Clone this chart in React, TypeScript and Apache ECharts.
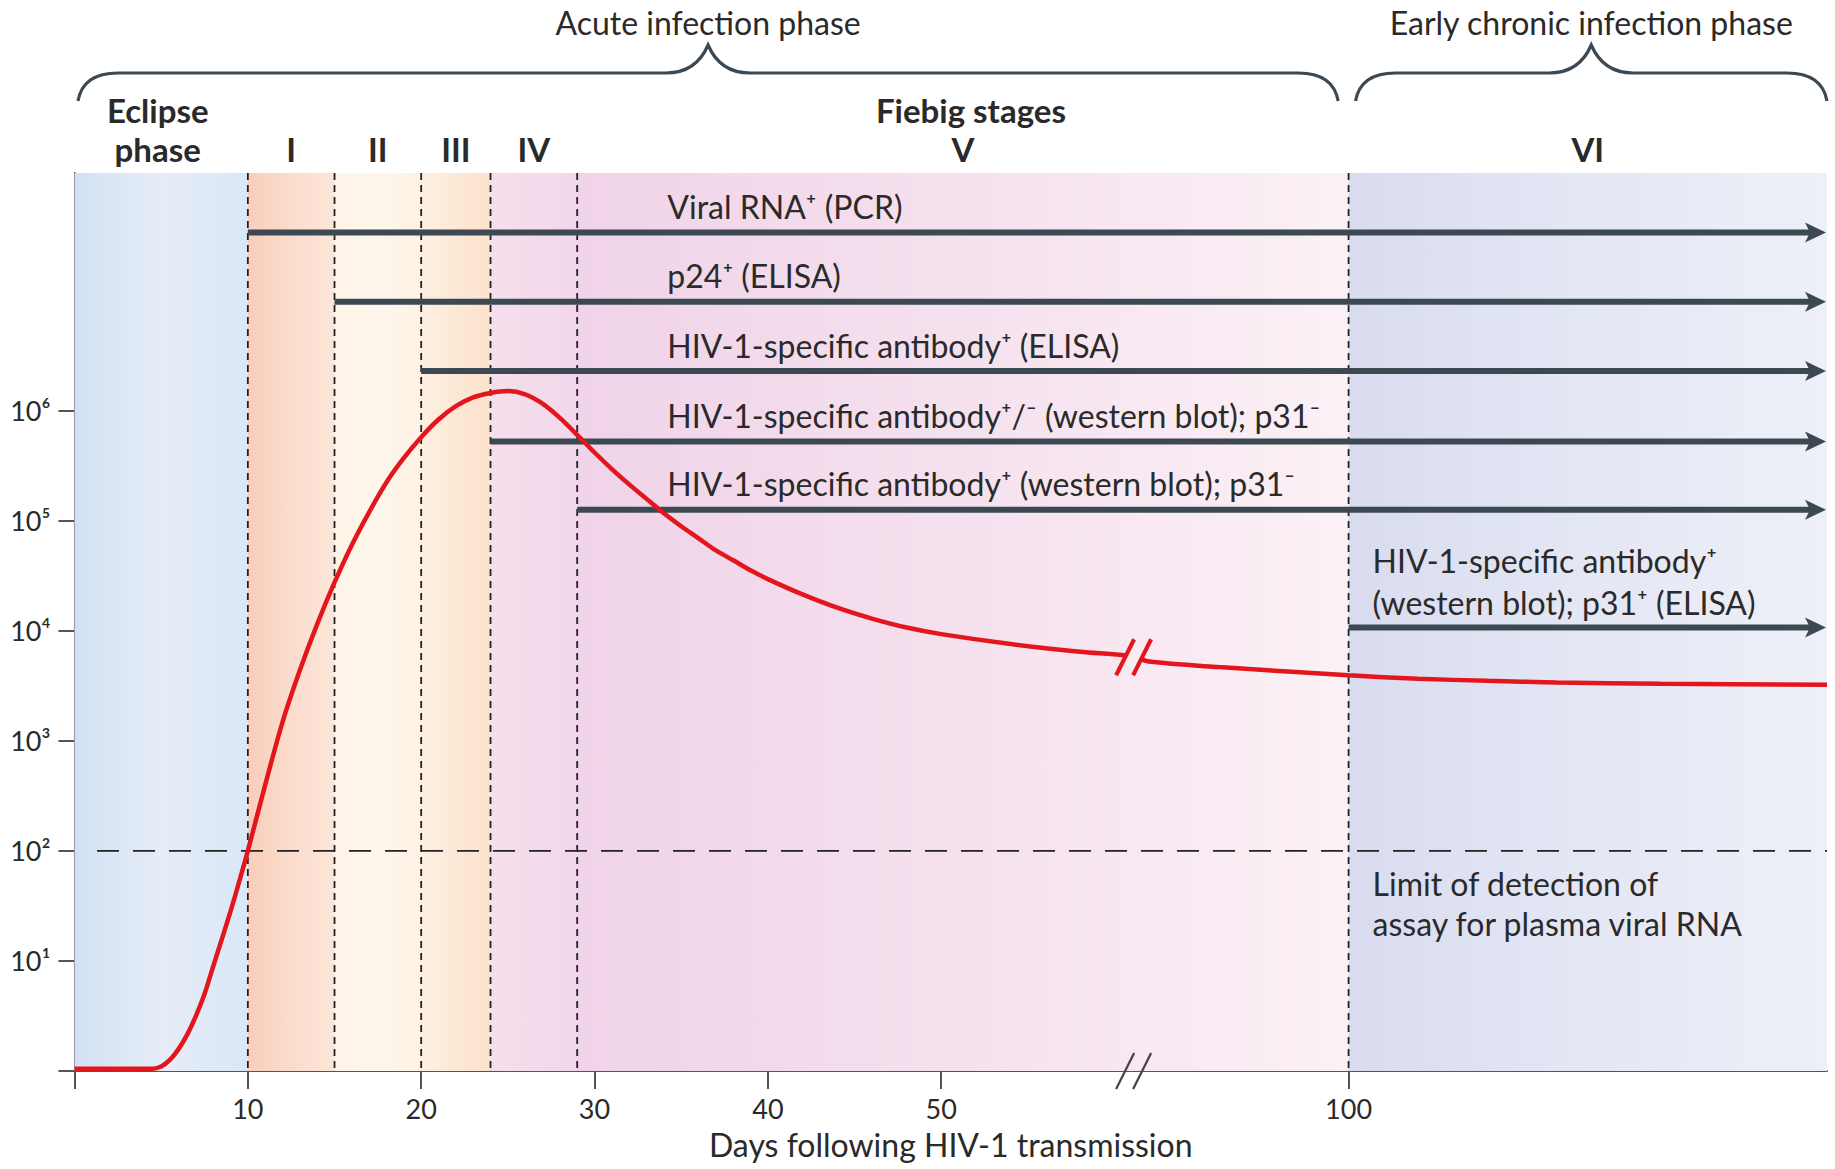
import React, { useEffect, useRef } from 'react';
import * as echarts from 'echarts';

// ---- axis break: days beyond the break are shifted left by BREAK_GAP days ----
const BREAK_POS = 61;
const BREAK_GAP = 26.5;
const toAxis = (day: number): number => (day <= BREAK_POS ? day : day - BREAK_GAP);
const fromAxis = (pos: number): number => (pos <= BREAK_POS ? pos : pos + BREAK_GAP);

const X_END_DAY = 127.6;
const Y_MIN = 1;
const Y_MAX = Math.pow(10, 8.16);

// ---- tick labels ----
const xTickDays = [10, 20, 30, 40, 50, 100];
const yTickValues = [10, 100, 1000, 10000, 100000, 1000000];
const yTickLabels = ['10¹', '10²', '10³', '10⁴', '10⁵', '10⁶'];

// ---- viral load curve (days, copies per ml) ----
const viralDays = [
  0, 4.5, 5, 5.5, 6, 6.5, 7, 7.5, 8, 8.5, 9, 9.5, 10, 11, 12, 13, 14, 15, 16, 17, 18, 19, 20, 21, 22, 23, 24, 25,
  26, 27, 28, 29, 30, 31, 32, 33, 34, 35, 36, 37, 38, 39, 40, 42, 44, 46, 48, 50, 54, 58, 61,
  88.5, 92.5, 100, 104, 108, 112, 118, 127.6,
];
const viralLoad = [
  1.05, 1.05, 1.1, 1.26, 1.58, 2.14, 3.16, 5.01, 8.91, 15.8, 28.2, 52.5, 100, 398, 1480, 4370, 11500, 27500, 60300,
  120000, 224000, 372000, 575000, 832000, 1100000, 1320000, 1450000, 1510000,
  1410000, 1160000, 861000, 603000, 417000, 295000, 214000, 158000, 117000, 89100, 69200, 53700, 43700, 35500, 29500,
  21400, 16200, 12900, 10700, 9330, 7590, 6460, 5890,
  5250, 4680, 3940, 3670, 3510, 3390, 3310, 3240,
];

// ---- background phases / Fiebig stages ----
const bandStartDays = [0, 10, 15, 20, 24, 29, 100];
const bandEndDays = [10, 15, 20, 24, 29, 100, X_END_DAY];
const bandColors = [
  ['#d2e1f3', '#e6edf8', '#d9e7f6'],
  ['#f9cfbb', '#fbdccc', '#fde6d9'],
  ['#fef4e7', '#fef6ed', '#fdf2e4'],
  ['#fef0e2', '#fde8d6', '#fce2cd'],
  ['#f6dfec', '#f4dbeb', '#f2d7ea'],
  ['#f0d3e8', '#f5e1ee', '#fbf1f6'],
  ['#d9dcef', '#e4e7f4', '#eef0f8'],
];
const stageBoundaryDays = [10, 15, 20, 24, 29, 100];
const stageNames = ['I', 'II', 'III', 'IV', 'V', 'VI'];
const stageStartDays = [10, 15, 20, 24, 29, 100];
const stageEndDays = [15, 20, 24, 29, 100, X_END_DAY];

// ---- assay detection arrows ----
const assayLabels = [
  'Viral RNA⁺ (PCR)',
  'p24⁺ (ELISA)',
  'HIV-1-specific antibody⁺ (ELISA)',
  'HIV-1-specific antibody⁺/⁻ (western blot); p31⁻',
  'HIV-1-specific antibody⁺ (western blot); p31⁻',
  'HIV-1-specific antibody⁺\n(western blot); p31⁺ (ELISA)',
];
const assayStartDays = [10, 15, 20, 24, 29, 100];
const assayLevels = [41700000, 9770000, 2290000, 525000, 126000, 10700];

// ---- phases (braces) ----
const phaseNames = ['Acute infection phase', 'Early chronic infection phase'];
const phaseStartDays = [0.2, 100.4];
const phaseEndDays = [99.4, X_END_DAY];

const DETECTION_LIMIT = 100;
const CURVE_BREAK_LEVEL = 5750;

const FONT = 'Lato, "Open Sans", "DejaVu Sans", sans-serif';
const TEXT = '#2a2a2a';
const SLATE = '#3c4852';
const RED = '#e3161d';
const ANNOT_SIZE = 32;
const BOLD_SIZE = 33;

export default function App() {
  const ref = useRef<HTMLDivElement>(null);

  useEffect(() => {
    if (!ref.current) return;
    const chart = echarts.init(ref.current, undefined, { renderer: 'svg' });

    const txt = (text: string, x: number, y: number, o: any = {}) => ({
      type: 'text',
      x,
      y,
      style: {
        text,
        fill: o.fill || TEXT,
        fontFamily: FONT,
        fontSize: o.fontSize || ANNOT_SIZE,
        fontWeight: o.fontWeight || 'normal',
        align: o.align || 'left',
        verticalAlign: o.verticalAlign || 'middle',
        lineHeight: o.lineHeight || 40,
      },
    });

    const option: any = {
      animation: false,
      backgroundColor: '#ffffff',
      grid: { left: 74.5, right: 8, top: 173, bottom: 98 },
      xAxis: {
        type: 'value',
        min: 0,
        max: toAxis(X_END_DAY),
        name: 'Days following HIV-1 transmission',
        nameLocation: 'middle',
        nameGap: 57,
        nameTextStyle: { fontFamily: FONT, fontSize: ANNOT_SIZE, color: TEXT },
        axisLine: { show: true, onZero: false, lineStyle: { color: '#555', width: 2 } },
        axisTick: {
          show: true,
          length: 18,
          lineStyle: { color: '#555', width: 2 },
          customValues: [0, ...xTickDays.map(toAxis)],
        },
        axisLabel: {
          show: true,
          margin: 24,
          fontFamily: FONT,
          fontSize: 27,
          color: TEXT,
          customValues: xTickDays.map(toAxis),
          formatter: (v: number) => String(Math.round(fromAxis(v))),
        },
        splitLine: { show: false },
      },
      yAxis: {
        type: 'log',
        logBase: 10,
        min: Y_MIN,
        max: Y_MAX,
        axisLine: { show: true, onZero: false, lineStyle: { color: '#555', width: 2 } },
        axisTick: {
          show: true,
          length: 16,
          lineStyle: { color: '#555', width: 2 },
          customValues: [1, ...yTickValues],
        },
        axisLabel: {
          show: true,
          margin: 24,
          fontFamily: FONT,
          fontSize: 27,
          color: TEXT,
          customValues: yTickValues,
          formatter: (v: number) => {
            const i = yTickValues.findIndex((t) => Math.abs(Math.log10(t) - Math.log10(v)) < 0.01);
            return i >= 0 ? yTickLabels[i] : '';
          },
        },
        splitLine: { show: false },
      },
      series: [
        // stage backgrounds
        {
          type: 'custom',
          z: 1,
          silent: true,
          clip: false,
          data: bandStartDays.map((d) => [toAxis(d), Y_MIN]),
          renderItem: (params: any, api: any) => {
            const i = params.dataIndex;
            const p0 = api.coord([toAxis(bandStartDays[i]), Y_MAX]);
            const p1 = api.coord([toAxis(bandEndDays[i]), Y_MIN]);
            const cols = bandColors[i];
            return {
              type: 'rect',
              shape: { x: p0[0], y: p0[1], width: p1[0] - p0[0], height: p1[1] - p0[1] },
              style: {
                fill: {
                  type: 'linear', x: 0, y: 0, x2: 1, y2: 0,
                  colorStops: cols.map((c, k) => ({ offset: k / (cols.length - 1), color: c })),
                },
              },
            };
          },
        },
        // stage boundaries (vertical dashed lines)
        {
          type: 'custom',
          z: 2,
          silent: true,
          clip: false,
          data: stageBoundaryDays.map((d) => [toAxis(d), Y_MIN]),
          renderItem: (params: any, api: any) => {
            const x = toAxis(stageBoundaryDays[params.dataIndex]);
            const a = api.coord([x, Y_MAX]);
            const b = api.coord([x, Y_MIN]);
            return {
              type: 'line',
              shape: { x1: a[0], y1: a[1], x2: b[0], y2: b[1] },
              style: { stroke: '#222', lineWidth: 1.8, lineDash: [7, 5] },
            };
          },
        },
        // limit of detection (horizontal dashed line)
        {
          type: 'custom',
          z: 2,
          silent: true,
          clip: false,
          data: [[1.3, DETECTION_LIMIT]],
          renderItem: (params: any, api: any) => {
            const a = api.coord([1.3, DETECTION_LIMIT]);
            const b = api.coord([toAxis(X_END_DAY), DETECTION_LIMIT]);
            return {
              type: 'line',
              shape: { x1: a[0], y1: a[1], x2: b[0], y2: b[1] },
              style: { stroke: '#222', lineWidth: 1.7, lineDash: [22, 14] },
            };
          },
        },
        // assay arrows + labels
        {
          type: 'custom',
          z: 3,
          silent: true,
          clip: false,
          data: assayStartDays.map((d, i) => [toAxis(d), assayLevels[i]]),
          renderItem: (params: any, api: any) => {
            const i = params.dataIndex;
            const a = api.coord([toAxis(assayStartDays[i]), assayLevels[i]]);
            const b = api.coord([toAxis(X_END_DAY), assayLevels[i]]);
            const tip = b[0] - 1;
            const y = a[1];
            const children: any[] = [
              {
                type: 'line',
                shape: { x1: a[0], y1: y, x2: tip - 14, y2: y },
                style: { stroke: SLATE, lineWidth: 6 },
              },
              {
                type: 'polygon',
                shape: { points: [[tip, y], [tip - 21, y - 10], [tip - 16, y], [tip - 21, y + 10]] },
                style: { fill: SLATE },
              },
            ];
            if (i < 5) {
              const lx = api.coord([34.2, assayLevels[i]])[0];
              children.push(txt(assayLabels[i], lx, y - 26));
            } else {
              children.push(txt(assayLabels[i], a[0] + 24, y - 4, { verticalAlign: 'bottom', lineHeight: 42 }));
            }
            return { type: 'group', children };
          },
        },
        // limit of detection label
        {
          type: 'custom',
          z: 4,
          silent: true,
          clip: false,
          data: [[toAxis(100), DETECTION_LIMIT]],
          renderItem: (params: any, api: any) => {
            const p = api.coord([toAxis(100), DETECTION_LIMIT]);
            return txt('Limit of detection of\nassay for plasma viral RNA', p[0] + 24, p[1] + 13, {
              verticalAlign: 'top',
              lineHeight: 40,
            });
          },
        },
        // stage labels, Fiebig title, eclipse label
        {
          type: 'custom',
          z: 4,
          silent: true,
          clip: false,
          data: stageStartDays.map((d) => [toAxis(d), Y_MAX]),
          renderItem: (params: any, api: any) => {
            const i = params.dataIndex;
            const top = api.coord([0, Y_MAX])[1];
            const xc = (api.coord([toAxis(stageStartDays[i]), Y_MAX])[0] + api.coord([toAxis(stageEndDays[i]), Y_MAX])[0]) / 2;
            const children: any[] = [
              txt(stageNames[i], xc, top - 24, { align: 'center', fontWeight: 'bold', fontSize: BOLD_SIZE }),
            ];
            if (i === 0) {
              const ex = api.coord([4.8, Y_MAX])[0];
              children.push(txt('Eclipse\nphase', ex, top - 44, { align: 'center', fontWeight: 'bold', fontSize: BOLD_SIZE, lineHeight: 39 }));
            }
            if (i === 4) {
              children.push(txt('Fiebig stages', xc + 8, top - 63, { align: 'center', fontWeight: 'bold', fontSize: BOLD_SIZE }));
            }
            return { type: 'group', children };
          },
        },
        // phase braces
        {
          type: 'custom',
          z: 4,
          silent: true,
          clip: false,
          data: phaseStartDays.map((d) => [toAxis(d), Y_MAX]),
          renderItem: (params: any, api: any) => {
            const i = params.dataIndex;
            const top = api.coord([0, Y_MAX])[1];
            const x0 = api.coord([toAxis(phaseStartDays[i]), Y_MAX])[0];
            const x1 = api.coord([toAxis(phaseEndDays[i]), Y_MAX])[0];
            const xm = (x0 + x1) / 2;
            const yl = top - 100;
            const yt = top - 128;
            const ye = top - 72;
            const d =
              `M${x0},${ye} Q${x0 + 5},${yl} ${x0 + 40},${yl} L${xm - 42},${yl} ` +
              `Q${xm - 12},${yl} ${xm},${yt} Q${xm + 12},${yl} ${xm + 42},${yl} ` +
              `L${x1 - 40},${yl} Q${x1 - 5},${yl} ${x1},${ye}`;
            return {
              type: 'group',
              children: [
                { type: 'path', shape: { pathData: d }, style: { stroke: SLATE, lineWidth: 3.2, fill: 'none' } },
                txt(phaseNames[i], xm, top - 151, { align: 'center', fontSize: ANNOT_SIZE }),
              ],
            };
          },
        },
        // viral load curve
        {
          type: 'line',
          z: 5,
          silent: true,
          showSymbol: false,
          symbol: 'none',
          smooth: 0.3,
          lineStyle: { color: RED, width: 4.5 },
          data: viralDays.map((d, i) => [toAxis(d), viralLoad[i]]),
        },
        // break marks (curve and axis)
        {
          type: 'custom',
          z: 6,
          silent: true,
          clip: false,
          data: [[BREAK_POS, CURVE_BREAK_LEVEL]],
          renderItem: (params: any, api: any) => {
            const c = api.coord([BREAK_POS + 0.1, CURVE_BREAK_LEVEL]);
            const ax = api.coord([BREAK_POS + 0.1, Y_MIN]);
            const slash = (cx: number, cy: number, dx: number, color: string, w: number) => ({
              type: 'line',
              shape: { x1: cx + dx - 9, y1: cy + 18, x2: cx + dx + 9, y2: cy - 18 },
              style: { stroke: color, lineWidth: w },
            });
            return {
              type: 'group',
              children: [
                {
                  type: 'polygon',
                  shape: { points: [[c[0] - 14, c[1] + 9], [c[0] - 4, c[1] - 11], [c[0] + 13, c[1] - 11], [c[0] + 3, c[1] + 9]] },
                  style: { fill: '#f8ebf2' },
                },
                slash(c[0], c[1], -8.5, RED, 4),
                slash(c[0], c[1], 8.5, RED, 4),
                slash(ax[0], ax[1], -8.5, '#444', 2.2),
                slash(ax[0], ax[1], 8.5, '#444', 2.2),
              ],
            };
          },
        },
      ],
    };

    chart.setOption(option);
    return () => chart.dispose();
  }, []);

  return (
    <div
      ref={ref}
      style={{ position: 'fixed', left: 0, top: 0, width: 1835, height: 1169, background: '#fff' }}
    />
  );
}
